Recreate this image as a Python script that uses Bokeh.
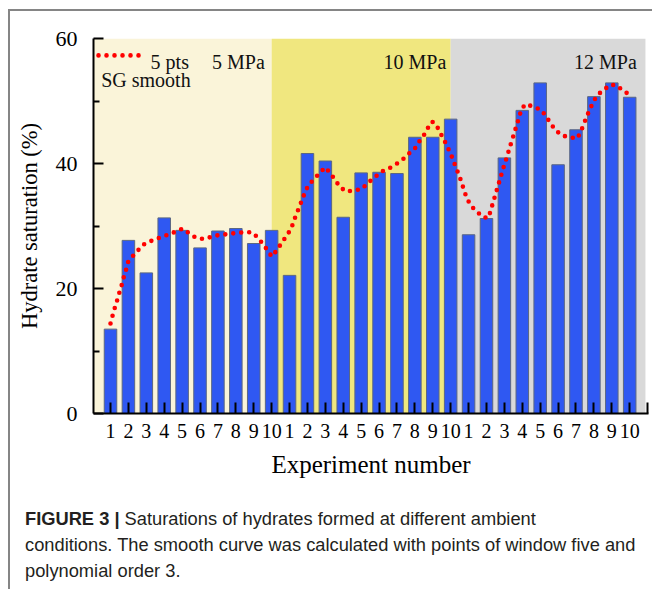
from bokeh.plotting import figure
from bokeh.models import Range1d, FixedTicker, Div
from bokeh.layouts import column
from bokeh.embed import file_html
from bokeh.resources import INLINE
from bokeh.core.properties import value

# ---------------- data ----------------
experiment = list(range(1, 31))
tick_labels = ["1", "2", "3", "4", "5", "6", "7", "8", "9", "10",
               "1", "2", "3", "4", "5", "6", "7", "8", "9", "10",
               "1", "2", "3", "4", "5", "6", "7", "8", "9", "10"]
saturation = [13.5, 27.7, 22.5, 31.3, 29.3, 26.5, 29.2, 29.6, 27.2, 29.3,
              22.1, 41.6, 40.4, 31.4, 38.5, 38.6, 38.4, 44.2, 44.2, 47.1,
              28.6, 31.2, 40.9, 48.5, 52.9, 39.8, 45.4, 50.7, 52.9, 50.6]

pressure_labels = ["5 MPa", "10 MPa", "12 MPa"]
region_start = [0.0, 10.0, 20.0]
region_end = [10.0, 20.0, 30.88]
region_colors = ["#FAF4D9", "#F0E77F", "#D9D9D9"]

# SG smoothed curve (5 pts window, order 3)
smooth_x = [1.00, 1.11, 1.24, 1.37, 1.50, 1.63, 1.75, 1.88, 1.99, 2.31, 2.60, 2.92,
            3.35, 3.80, 4.21, 4.64, 5.03, 5.41, 5.78, 6.22, 6.67, 7.12, 7.57, 8.02,
            8.47, 8.91, 9.21, 9.49, 9.77, 10.01, 10.28, 10.54, 10.80, 11.08, 11.23,
            11.38, 11.56, 11.71, 11.88, 12.05, 12.37, 12.69, 13.00, 13.26, 13.54,
            13.80, 14.16, 14.59, 15.04, 15.37, 15.73, 16.13, 16.55, 16.96, 17.31,
            17.63, 17.98, 18.24, 18.50, 18.73, 18.97, 19.19, 19.40, 19.61, 19.81,
            20.01, 20.17, 20.33, 20.50, 20.65, 20.78, 20.95, 21.14, 21.47, 21.81,
            22.11, 22.24, 22.37, 22.50, 22.63, 22.76, 22.89, 23.02, 23.17, 23.30,
            23.44, 23.56, 23.71, 23.83, 23.96, 24.18, 24.61, 25.04, 25.32, 25.56,
            25.84, 26.20, 26.63, 27.08, 27.28, 27.45, 27.61, 27.80, 27.99, 28.21,
            28.56, 28.92, 29.28, 29.61, 29.99]
smooth_y = [14.4, 15.6, 16.9, 18.1, 19.4, 20.6, 21.9, 23.1, 24.3, 25.4, 26.3, 27.2,
            27.7, 28.2, 28.6, 29.1, 29.6, 28.8, 28.1, 27.9, 28.3, 28.6, 28.7, 28.9,
            29.0, 29.0, 28.2, 27.2, 26.1, 25.1, 26.1, 27.2, 28.3, 29.5, 30.7,
            31.9, 33.1, 34.3, 35.5, 36.5, 37.5, 38.5, 39.4, 38.5, 37.4,
            36.3, 35.5, 35.7, 35.9, 36.9, 37.7, 38.7, 39.2, 39.9, 40.6,
            41.5, 42.3, 43.5, 44.5, 45.7, 46.7, 46.2, 45.0, 43.9, 42.7,
            41.5, 40.3, 39.1, 37.9, 36.6, 35.4, 34.2, 33.2, 32.3, 31.4,
            31.3, 32.5, 33.8, 35.0, 36.3, 37.5, 38.8, 40.0, 41.3, 42.6,
            43.8, 45.0, 46.3, 47.5, 48.7, 49.5, 49.1, 48.6, 47.6, 46.5,
            45.4, 44.5, 44.2, 44.0, 45.2, 46.4, 47.6, 48.8, 50.0, 51.0,
            51.8, 52.6, 52.5, 51.7, 51.0]

SERIF = "Liberation Serif"

# ---------------- figure ----------------
p = figure(width=642, height=492,
           x_range=Range1d(0.05, 31.05), y_range=Range1d(0, 60),
           output_backend="svg", toolbar_location=None,
           min_border_left=83, min_border_right=4,
           min_border_top=27, min_border_bottom=90)
p.outline_line_color = None
p.xgrid.visible = False
p.ygrid.visible = False
p.background_fill_color = "white"
p.border_fill_color = "white"

# pressure regions
p.quad(left=region_start, right=region_end, bottom=0, top=60,
       fill_color=region_colors, line_color=None)

# bars
p.vbar(x=experiment, top=saturation, width=0.7,
       fill_color="#2F58F2", line_color="#5B6782", line_width=1)

# smoothed curve (dotted)
p.line(smooth_x, smooth_y, line_color="#FF0000", line_width=4.6,
       line_dash="0 8", line_cap="round")

# legend (manual)
p.line([0.33, 2.79], [57.3, 57.3], line_color="#FF0000", line_width=4.6,
       line_dash="0 8", line_cap="round")
p.text(x=[3.24], y=[56.3], text=["5 pts"], text_font=value(SERIF),
       text_font_size="20px", text_align="left", text_baseline="alphabetic",
       text_color="#111111")
p.text(x=[0.48], y=[53.3], text=["SG smooth"], text_font=value(SERIF),
       text_font_size="20px", text_align="left", text_baseline="alphabetic",
       text_color="#111111")

# region labels
p.text(x=[9.62, 19.76, 30.4], y=[56.2, 56.2, 56.2], text=pressure_labels,
       text_font=value(SERIF), text_font_size="20px", text_align="right",
       text_baseline="alphabetic", text_color="#111111")

# axes
for ax in (p.xaxis[0], p.yaxis[0]):
    ax.axis_line_width = 2
    ax.axis_line_color = "black"
    ax.major_tick_line_width = 2
    ax.major_tick_line_color = "black"
    ax.minor_tick_line_width = 2
    ax.minor_tick_line_color = "black"
    ax.major_tick_out = 0
    ax.minor_tick_out = 0
    ax.major_label_text_font = SERIF
    ax.major_label_text_color = "black"
    ax.axis_label_text_font = SERIF
    ax.axis_label_text_font_style = "normal"
    ax.axis_label_text_color = "black"

p.yaxis.ticker = FixedTicker(ticks=[0, 20, 40, 60], minor_ticks=[10, 30, 50])
p.yaxis.major_tick_in = 10
p.yaxis.minor_tick_in = 6
p.yaxis.major_label_text_font_size = "22px"
p.yaxis.major_label_standoff = 16
p.yaxis.axis_label = "Hydrate saturation (%)"
p.yaxis.axis_label_text_font_size = "22.5px"
p.yaxis.axis_label_standoff = 11

p.xaxis.ticker = FixedTicker(ticks=experiment + [31], minor_ticks=[])
overrides = {x: lbl for x, lbl in zip(experiment, tick_labels)}
overrides[31] = ""
p.xaxis.major_label_overrides = overrides
p.xaxis.major_tick_in = 11
p.xaxis.major_label_text_font_size = "20px"
p.xaxis.major_label_standoff = 10
p.xaxis.axis_label = "Experiment number"
p.xaxis.axis_label_text_font_size = "25px"
p.xaxis.axis_label_standoff = 10

# caption
cap = Div(
    text=('<b>FIGURE 3 |</b> Saturations of hydrates formed at different ambient<br>'
          'conditions. The smooth curve was calculated with points of window five and<br>'
          'polynomial order 3.'),
    styles={"font-family": "'Liberation Sans', Arial, sans-serif",
            "font-size": "18.3px", "line-height": "26px", "color": "#231F20",
            "white-space": "nowrap"},
    width=620, height=83, margin=(3, 0, 0, 15))

root = column(p, cap,
              styles={"border-top": "2px solid #858585",
                      "border-left": "2px solid #858585"},
              margin=(9, 0, 0, 8))

open("out.html", "w").write(file_html(root, INLINE))
